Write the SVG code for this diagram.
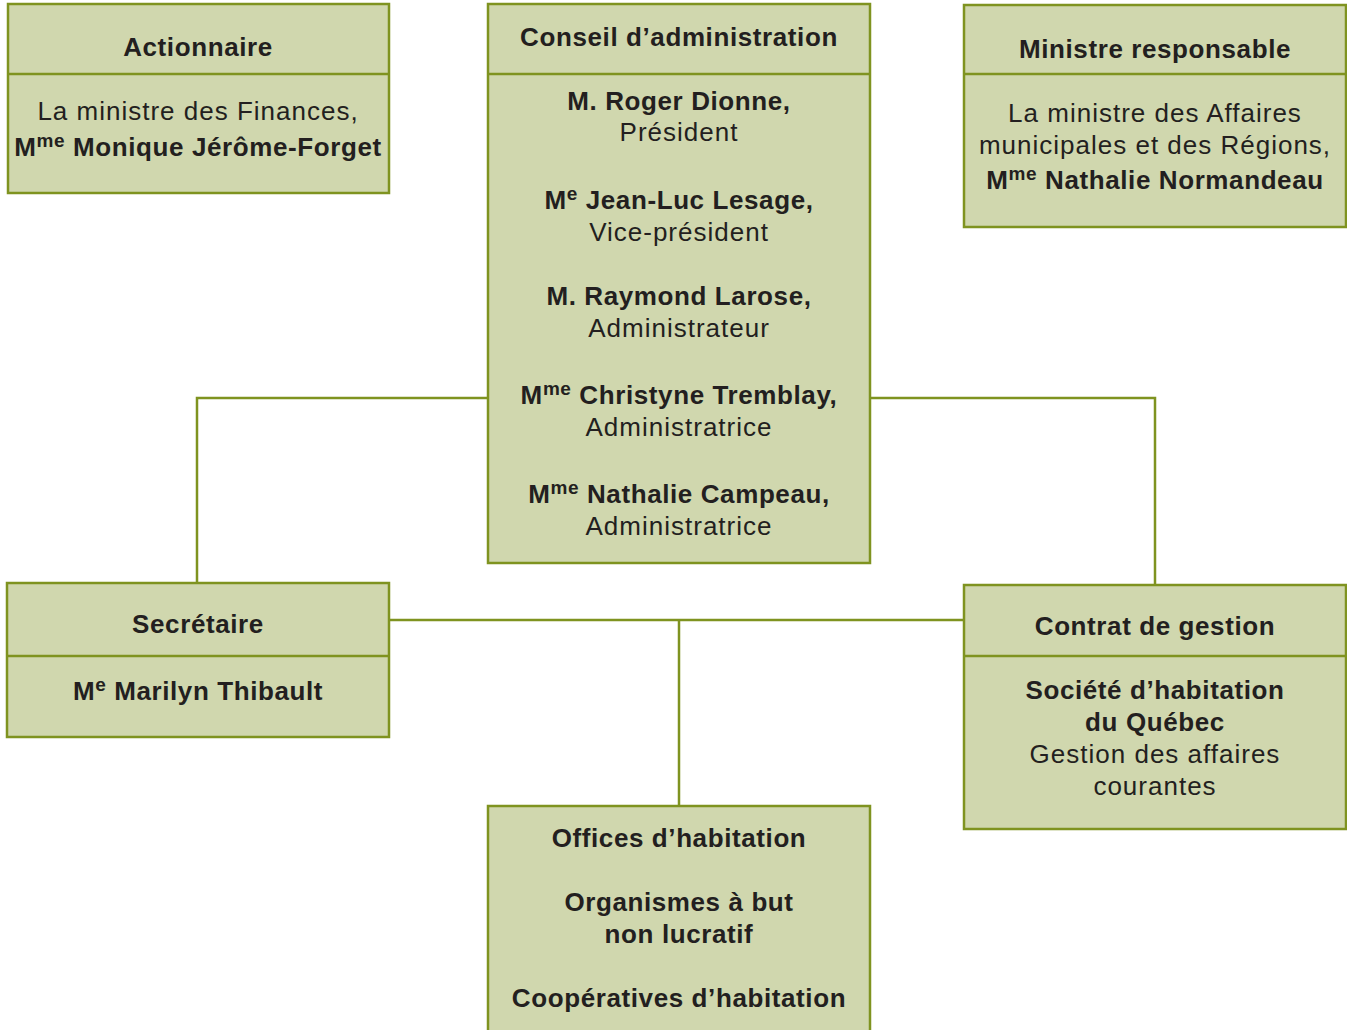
<svg xmlns="http://www.w3.org/2000/svg" width="1347" height="1030" viewBox="0 0 1347 1030">
<style>
.box{fill:#d0d7ae;stroke:#7f9320;stroke-width:2.5}
.div{stroke:#7f9320;stroke-width:2.5}
.con{stroke:#7f9320;stroke-width:2.5;fill:none}
text{font-family:"Liberation Sans",Arial,sans-serif;font-size:26px;fill:#231f20;text-anchor:middle;letter-spacing:1px}
.b{font-weight:bold;letter-spacing:0.6px}
.sup{font-size:19px}
</style>
<rect width="1347" height="1030" fill="#ffffff"/>
<g id="connectors">
<polyline class="con" points="488,398 197,398 197,583"/>
<polyline class="con" points="870,398 1155,398 1155,585"/>
<line class="con" x1="389" y1="620" x2="964" y2="620"/>
<line class="con" x1="679" y1="620" x2="679" y2="806"/>
</g>
<g id="actionnaire">
<rect class="box" x="8" y="4" width="381" height="189"/>
<line class="div" x1="8" y1="74" x2="389" y2="74"/>
<text x="198" y="56" class="b">Actionnaire</text>
<text x="198" y="120">La ministre des Finances,</text>
<text x="198" y="156" class="b">M<tspan class="sup" dy="-9">me</tspan><tspan dy="9"> Monique Jérôme-Forget</tspan></text>
</g>
<g id="conseil">
<rect class="box" x="488" y="4" width="382" height="559"/>
<line class="div" x1="488" y1="74" x2="870" y2="74"/>
<text x="679" y="46" class="b">Conseil d’administration</text>
<text x="679" y="110" class="b">M. Roger Dionne,</text>
<text x="679" y="141">Président</text>
<text x="679" y="209" class="b">M<tspan class="sup" dy="-9">e</tspan><tspan dy="9"> Jean-Luc Lesage,</tspan></text>
<text x="679" y="241">Vice-président</text>
<text x="679" y="305" class="b">M. Raymond Larose,</text>
<text x="679" y="337">Administrateur</text>
<text x="679" y="404" class="b">M<tspan class="sup" dy="-9">me</tspan><tspan dy="9"> Christyne Tremblay,</tspan></text>
<text x="679" y="436">Administratrice</text>
<text x="679" y="503" class="b">M<tspan class="sup" dy="-9">me</tspan><tspan dy="9"> Nathalie Campeau,</tspan></text>
<text x="679" y="535">Administratrice</text>
</g>
<g id="ministre">
<rect class="box" x="964" y="5" width="382" height="222"/>
<line class="div" x1="964" y1="74" x2="1346" y2="74"/>
<text x="1155" y="58" class="b">Ministre responsable</text>
<text x="1155" y="122">La ministre des Affaires</text>
<text x="1155" y="154">municipales et des Régions,</text>
<text x="1155" y="189" class="b">M<tspan class="sup" dy="-9">me</tspan><tspan dy="9"> Nathalie Normandeau</tspan></text>
</g>
<g id="secretaire">
<rect class="box" x="7" y="583" width="382" height="154"/>
<line class="div" x1="7" y1="656" x2="389" y2="656"/>
<text x="198" y="633" class="b">Secrétaire</text>
<text x="198" y="700" class="b">M<tspan class="sup" dy="-9">e</tspan><tspan dy="9"> Marilyn Thibault</tspan></text>
</g>
<g id="contrat">
<rect class="box" x="964" y="585" width="382" height="244"/>
<line class="div" x1="964" y1="656" x2="1346" y2="656"/>
<text x="1155" y="635" class="b">Contrat de gestion</text>
<text x="1155" y="699" class="b">Société d’habitation</text>
<text x="1155" y="731" class="b">du Québec</text>
<text x="1155" y="763">Gestion des affaires</text>
<text x="1155" y="795">courantes</text>
</g>
<g id="offices">
<rect class="box" x="488" y="806" width="382" height="240"/>
<text x="679" y="847" class="b">Offices d’habitation</text>
<text x="679" y="911" class="b">Organismes à but</text>
<text x="679" y="943" class="b">non lucratif</text>
<text x="679" y="1007" class="b">Coopératives d’habitation</text>
</g>
</svg>
